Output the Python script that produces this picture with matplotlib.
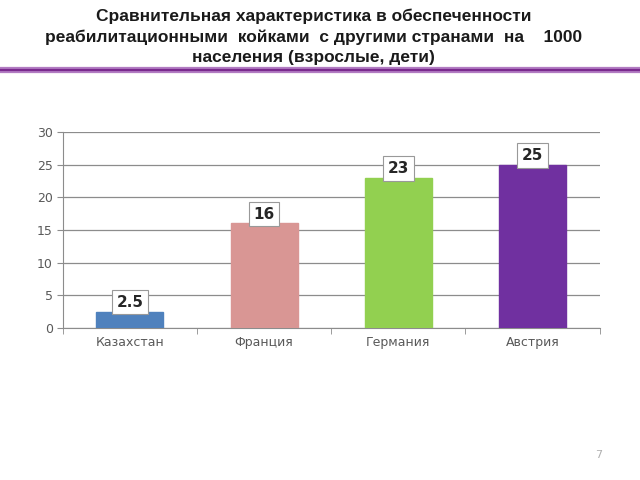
import numpy as np
import matplotlib.pyplot as plt
from matplotlib.lines import Line2D

countries = ['Казахстан', 'Франция', 'Германия', 'Австрия']
beds = [2.5, 16, 23, 25]
labels = ['2.5', '16', '23', '25']
colors = ['#4F81BD', '#D99694', '#92D050', '#7030A0']
yticks = [0, 5, 10, 15, 20, 25, 30]

title = ('Сравнительная характеристика в обеспеченности\n'
         'реабилитационными  койками  с другими странами  на    1000\n'
         'населения (взрослые, дети)')

fig = plt.figure(figsize=(6.4, 4.8), dpi=100)
fig.text(0.49, 0.982, title, ha='center', va='top', fontsize=12.5,
         fontweight='bold', family='Liberation Sans', linespacing=1.44,
         color='#1a1a1a')

# purple separator under the title
fig.add_artist(Line2D([0, 1], [0.855, 0.855], color='#B27CC2', lw=4.5,
                      transform=fig.transFigure))
fig.add_artist(Line2D([0, 1], [0.855, 0.855], color='#7A2A8E', lw=1.6,
                      transform=fig.transFigure))

ax = fig.add_axes([0.098, 0.317, 0.839, 0.408])
x = np.arange(len(countries))
ax.bar(x, beds, width=0.5, color=colors, edgecolor=colors, zorder=3)

for xi, v, lab in zip(x, beds, labels):
    ax.annotate(lab, (xi, v), xytext=(0, 1.2), textcoords='offset points',
                ha='center', va='bottom', fontsize=11, fontweight='bold',
                color='#262626',
                bbox=dict(boxstyle='square,pad=0.3', fc='white', ec='#999999',
                          lw=0.8), zorder=5)

ax.set_xlim(-0.5, len(countries) - 0.5)
ax.set_ylim(0, 30)
ax.set_yticks(yticks)
ax.yaxis.grid(True, color='#8c8c8c', lw=0.9, zorder=0)
ax.set_xticks(x)
ax.set_xticklabels(countries)
ax.set_xticks(np.arange(-0.5, len(countries)), minor=True)
ax.tick_params(axis='x', which='major', length=0, labelsize=9,
               labelcolor='#595959', pad=6)
ax.tick_params(axis='x', which='minor', length=4, color='#8c8c8c')
ax.tick_params(axis='y', length=4, color='#8c8c8c', labelsize=9,
               labelcolor='#595959', pad=3)
for s in ['top', 'right']:
    ax.spines[s].set_visible(False)
for s in ['left', 'bottom']:
    ax.spines[s].set_color('#8c8c8c')

fig.text(0.935, 0.045, '7', fontsize=8, color='#b0b0b0', ha='center')

fig.savefig('out.png', dpi=100)
